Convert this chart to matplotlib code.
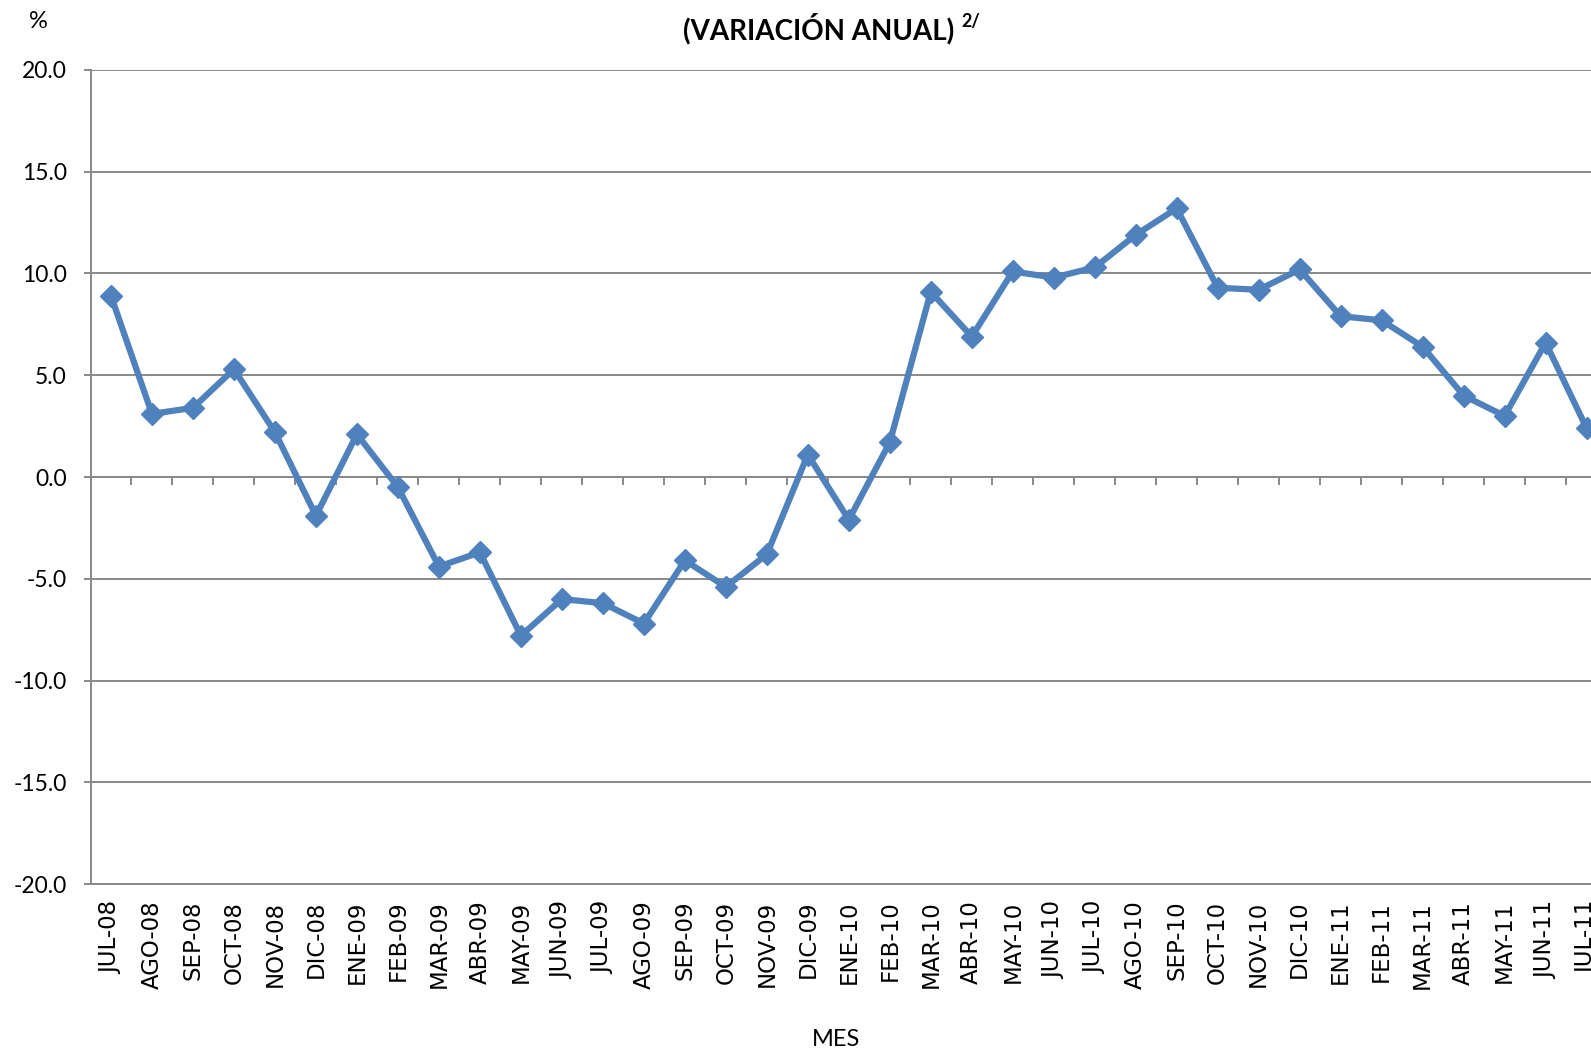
import numpy as np
import matplotlib
matplotlib.use("Agg")
import matplotlib.pyplot as plt

# monthly annual variation (%), JUL-08 .. JUL-11
months = ["JUL-08", "AGO-08", "SEP-08", "OCT-08", "NOV-08", "DIC-08",
          "ENE-09", "FEB-09", "MAR-09", "ABR-09", "MAY-09", "JUN-09",
          "JUL-09", "AGO-09", "SEP-09", "OCT-09", "NOV-09", "DIC-09",
          "ENE-10", "FEB-10", "MAR-10", "ABR-10", "MAY-10", "JUN-10",
          "JUL-10", "AGO-10", "SEP-10", "OCT-10", "NOV-10", "DIC-10",
          "ENE-11", "FEB-11", "MAR-11", "ABR-11", "MAY-11", "JUN-11",
          "JUL-11"]
variacion = [8.9, 3.1, 3.4, 5.3, 2.2, -1.9,
             2.1, -0.5, -4.4, -3.7, -7.8, -6.0,
             -6.2, -7.2, -4.1, -5.4, -3.8, 1.1,
             -2.1, 1.7, 9.1, 6.9, 10.1, 9.8,
             10.3, 11.9, 13.2, 9.3, 9.2, 10.2,
             7.9, 7.7, 6.4, 4.0, 3.0, 6.6,
             2.4]
y_ticks = [-20, -15, -10, -5, 0, 5, 10, 15, 20]
y_labels = ["-20.0", "-15.0", "-10.0", "-5.0", "0.0", "5.0", "10.0", "15.0", "20.0"]

line_color = "#4F81BD"
grid_color = "#898989"
label_font = "Lato"

fig = plt.figure(figsize=(15.91, 10.53), dpi=100)
# axes runs past the right edge of the picture, like the cropped original
ax = fig.add_axes([90.5 / 1591, 169 / 1053, 1516.6 / 1591, 814 / 1053])

x = np.arange(len(months))
ax.plot(x, variacion, color=line_color, lw=4.5, marker="D", ms=11,
        mec=line_color, mew=1, clip_on=False, zorder=3)

ax.set_xlim(-0.5, len(months) - 0.5)
ax.set_ylim(-20, 20)

# y axis
ax.set_yticks(y_ticks)
ax.set_yticklabels(y_labels, fontfamily=label_font, fontsize=16.5)
ax.yaxis.grid(True, color=grid_color, lw=1.4)
ax.set_axisbelow(True)
ax.tick_params(axis="y", direction="out", length=5, width=1.4,
               color=grid_color, pad=12)

for side in ["top", "right"]:
    ax.spines[side].set_visible(False)
ax.spines["left"].set_color(grid_color)
ax.spines["left"].set_linewidth(1.4)

# category axis crosses at zero, tick marks between months
ax.spines["bottom"].set_position(("data", 0))
ax.spines["bottom"].set_color(grid_color)
ax.spines["bottom"].set_linewidth(1.4)
ax.set_xticks(np.arange(len(months) + 1) - 0.5)
ax.set_xticklabels([])
ax.tick_params(axis="x", direction="out", length=5.5, width=1.4,
               color=grid_color)

# month labels sit below the plot area
sec = ax.secondary_xaxis("bottom")
sec.set_xticks(x)
sec.set_xticklabels(months, rotation=90, fontfamily="DejaVu Sans", fontsize=16.5)
sec.tick_params(axis="x", length=0, pad=12)
sec.spines["bottom"].set_color(grid_color)
sec.spines["bottom"].set_linewidth(1.4)

fig.text(38.5 / 1591, 1 - 22 / 1053, "%", fontfamily=label_font, fontsize=17,
         ha="center", va="center")
fig.text(836 / 1591, 1 - 1040 / 1053, "MES", fontfamily=label_font, fontsize=17,
         ha="center", va="center")
fig.text(954 / 1591, 1 - 29 / 1053, "(VARIACIÓN ANUAL)", fontfamily=label_font,
         fontsize=20, fontweight="bold", ha="right", va="center")
fig.text(961 / 1591, 1 - 22 / 1053, "2/", fontfamily=label_font,
         fontsize=13, fontweight="bold", ha="left", va="center")

fig.savefig("out.png", dpi=100)
